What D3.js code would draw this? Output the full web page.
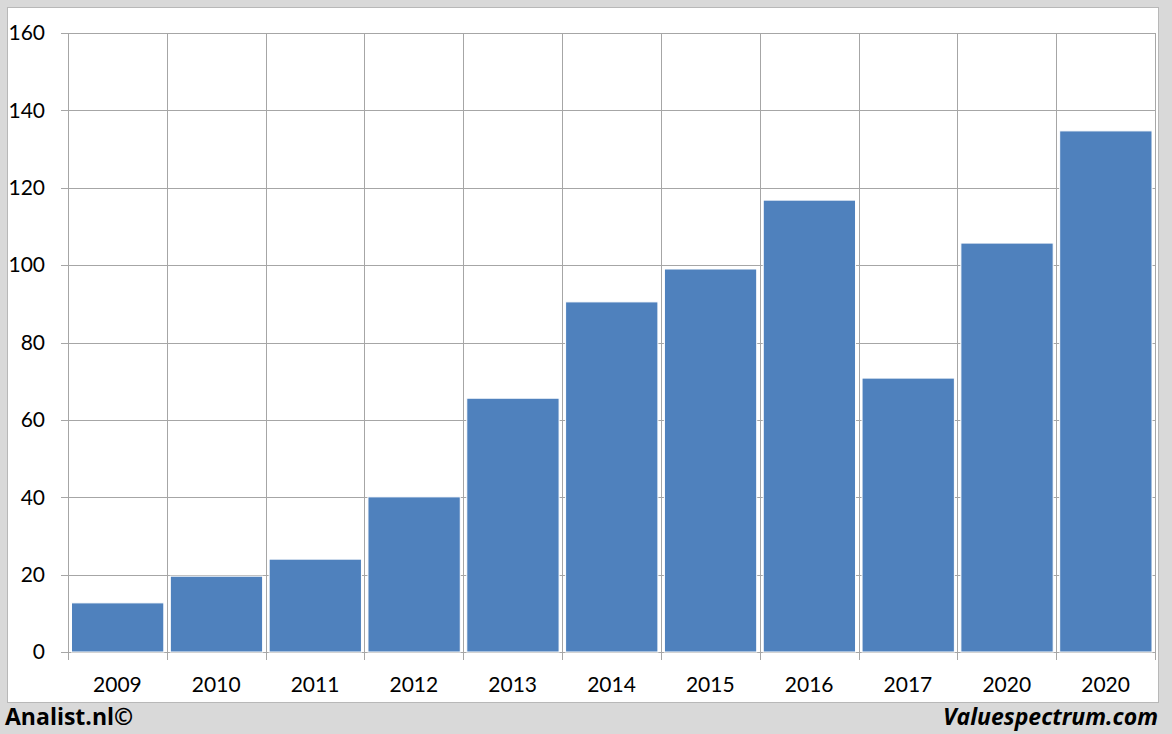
<!DOCTYPE html>
<html><head><meta charset="utf-8">
<script src="https://cdn.jsdelivr.net/npm/d3@7"></script>
<style>body{margin:0;background:#d9d9d9;}svg{display:block;}</style>
</head><body>
<svg id="c" width="1172" height="734"></svg>
<script>
const categories = ["2009","2010","2011","2012","2013","2014","2015","2016","2017","2020","2020"];
const values = [12.7, 19.6, 24.0, 40.1, 65.6, 90.5, 99.0, 116.8, 70.8, 105.7, 134.7];
const yTicks = [0,20,40,60,80,100,120,140,160];

const svg = d3.select("#c");
const font = "Lato, Open Sans, sans-serif";
const font2 = "Open Sans, sans-serif";
svg.append("rect").attr("x",0).attr("y",0).attr("width",1172).attr("height",734).attr("fill","#d9d9d9");
svg.append("rect").attr("x",7.5).attr("y",7.5).attr("width",1151).attr("height",695).attr("fill","#fff").attr("stroke","#b8b8b8").attr("stroke-width",1);

const L=68, R=1155, T=33, B=652;
const x = d3.scaleBand().domain(d3.range(categories.length)).range([L,R]).paddingInner(0).paddingOuter(0);
const y = d3.scaleLinear().domain([0,160]).range([B,T]);

// horizontal gridlines
svg.append("g").selectAll("line").data(yTicks).join("line")
  .attr("x1",L-7).attr("x2",R).attr("y1",d=>Math.round(y(d))+0.5).attr("y2",d=>Math.round(y(d))+0.5)
  .attr("stroke","#a6a6a6").attr("stroke-width",1);
// vertical gridlines
const bounds = d3.range(categories.length+1).map(i=> i<categories.length ? x(i) : R);
svg.append("g").selectAll("line").data(bounds).join("line")
  .attr("x1",d=>Math.round(d)+0.5).attr("x2",d=>Math.round(d)+0.5).attr("y1",T).attr("y2",B+8)
  .attr("stroke","#a6a6a6").attr("stroke-width",1);

// bars
svg.append("g").selectAll("rect").data(values).join("rect")
  .attr("x",(d,i)=>x(i)+3.5).attr("width",x.bandwidth()-6.5)
  .attr("y",d=>y(d)).attr("height",d=>B-y(d))
  .attr("fill","#4f81bd").attr("stroke","#ffffff").attr("stroke-width",1);

// y labels
svg.append("g").selectAll("text").data(yTicks).join("text")
  .attr("x",45).attr("y",d=>y(d)).attr("dy","0.35em").attr("text-anchor","end")
  .attr("font-family",font).attr("font-size",21).attr("fill","#000").text(d=>d);
// x labels
svg.append("g").selectAll("text").data(categories).join("text")
  .attr("x",(d,i)=>x(i)+x.bandwidth()/2).attr("y",685).attr("dy","0.35em").attr("text-anchor","middle")
  .attr("font-family",font).attr("font-size",21).attr("fill","#000").text(d=>d);

// footer
svg.append("text").attr("x",5).attr("y",717).attr("dy","0.35em").attr("font-family",font2)
  .attr("font-weight","bold").attr("font-size",23).text("Analist.nl©");
svg.append("text").attr("x",1158).attr("y",717).attr("dy","0.35em").attr("text-anchor","end").attr("font-family",font2)
  .attr("font-weight","bold").attr("font-style","italic").attr("font-size",23).text("Valuespectrum.com");
</script>
</body></html>
